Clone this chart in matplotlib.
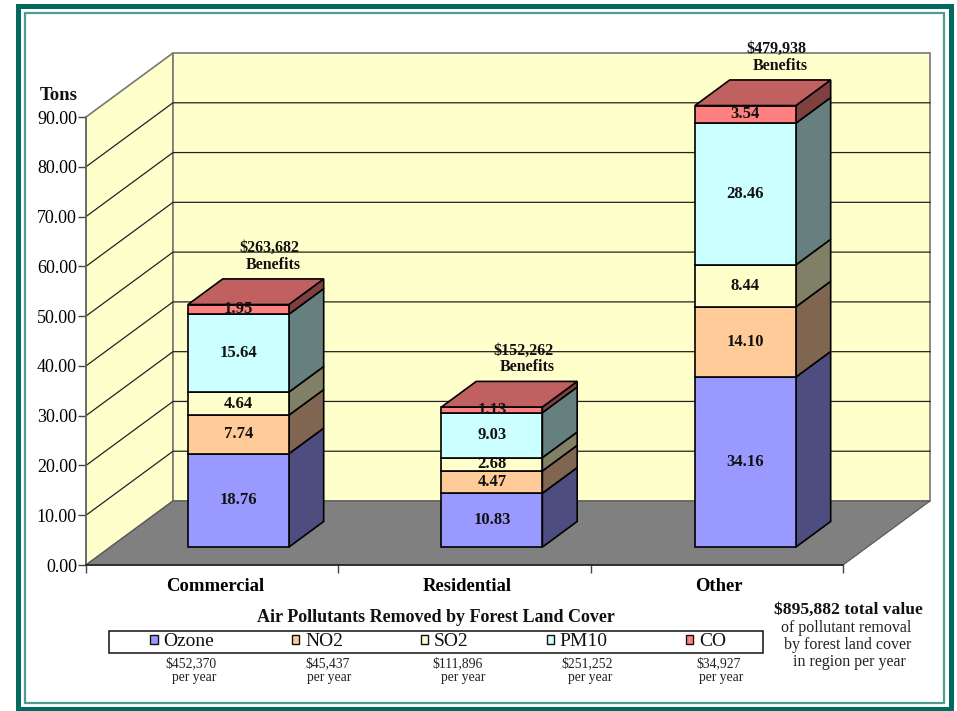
import matplotlib.pyplot as plt
from matplotlib.patches import Polygon, Rectangle

W, H = 957, 711

categories = ['Commercial', 'Residential', 'Other']
pollutants = ['Ozone', 'NO2', 'SO2', 'PM10', 'CO']
ozone = [18.76, 10.83, 34.16]
no2 = [7.74, 4.47, 14.10]
so2 = [4.64, 2.68, 8.44]
pm10 = [15.64, 9.03, 28.46]
co = [1.95, 1.13, 3.54]
benefits = ['$263,682', '$152,262', '$479,938']
per_year = ['$452,370', '$45,437', '$111,896', '$251,252', '$34,927']
yticks = [0, 10, 20, 30, 40, 50, 60, 70, 80, 90]

front_cols = ['#9999FF', '#FFCC99', '#FFFFCC', '#CCFFFF', '#FF8080']
side_cols = ['#4D4D80', '#806650', '#808066', '#668080', '#804040']
top_col = '#C06060'

plt.rcParams['font.family'] = ['Liberation Serif', 'DejaVu Serif']
plt.rcParams['text.color'] = '#111111'


def fx(px):
    return px / W


def fy(py):
    return 1 - py / H


fig = plt.figure(figsize=(W / 100, H / 100), dpi=100, facecolor='white')

# frame around the chart
fig.add_artist(Rectangle((fx(17.5), fy(709)), (951 - 17.5) / W, (709 - 5.5) / H,
                         transform=fig.transFigure, fill=False, ec='#006B5E', lw=3.6))
fig.add_artist(Rectangle((fx(24.5), fy(702.7)), (944 - 24.5) / W, (702.7 - 13) / H,
                         transform=fig.transFigure, fill=False, ec='#4F9C90', lw=1.6))

# front plane of the 3d box is the real axes
ax = fig.add_axes([fx(86), fy(565), (843 - 86) / W, (565 - 117) / H])
ax.set_xlim(0, 3)
ax.set_ylim(0, 90)
ax.patch.set_visible(False)
for s in ['top', 'right']:
    ax.spines[s].set_visible(False)
ax.spines['left'].set_color('#666666')
ax.spines['left'].set_linewidth(1.2)
ax.spines['bottom'].set_color('#222222')
ax.spines['bottom'].set_linewidth(1.2)

# depth of the box in axis units
dep_x = 87 / (757 / 3)
dep_y = 64 / (448 / 90)


def proj(x, v, d):
    return (x + d * dep_x, v + d * dep_y)


# walls and floor
ax.add_patch(Polygon([proj(0, 0, 0), proj(0, 0, 1), proj(0, 90, 1), proj(0, 90, 0)], fc='#FFFFCC', ec='#777777',
                     lw=1.2, clip_on=False, zorder=0.5))
ax.add_patch(Polygon([proj(0, 0, 1), proj(3, 0, 1), proj(3, 90, 1), proj(0, 90, 1)], fc='#FFFFCC', ec='#777777',
                     lw=1.2, clip_on=False, zorder=0.5))
ax.add_patch(Polygon([proj(0, 0, 0), proj(3, 0, 0), proj(3, 0, 1), proj(0, 0, 1)], fc='#808080', ec='#555555',
                     lw=0.8, clip_on=False, zorder=0.6))
for t in yticks[1:-1]:
    ax.plot(*zip(proj(0, t, 0), proj(0, t, 1), proj(3, t, 1)), color='#222222', lw=0.9, clip_on=False, zorder=0.7)

# stacked 3d bars
series = [ozone, no2, so2, pm10, co]
bar_w = 0.4
d0, d1 = 0.28, 0.68
z = 2
for i in range(len(categories)):
    left = i * 1.0046 + 0.3075
    right = left + bar_w
    bottom = 0.0
    for k, vals in enumerate(series):
        v = vals[i]
        top = bottom + v
        ax.add_patch(Polygon([proj(right, bottom, d0), proj(right, bottom, d1), proj(right, top, d1), proj(right, top, d0)],
                             fc=side_cols[k], ec='black', lw=1.2, clip_on=False, zorder=z))
        ax.add_patch(Polygon([proj(left, bottom, d0), proj(right, bottom, d0), proj(right, top, d0), proj(left, top, d0)],
                             fc=front_cols[k], ec='black', lw=1.2, clip_on=False, zorder=z + 1))
        cx, cy = proj(left + bar_w / 2, bottom + v / 2, d0)
        ax.text(cx, cy, '%.2f' % v, ha='center', va='center', fontsize=12, fontweight='bold', zorder=50)
        bottom = top
    ax.add_patch(Polygon([proj(left, bottom, d0), proj(right, bottom, d0), proj(right, bottom, d1), proj(left, bottom, d1)],
                         fc=top_col, ec='black', lw=1.2, clip_on=False, zorder=z + 1))
    lx, ly = proj(right, bottom, d1)
    ax.annotate(benefits[i], (lx, ly), xytext=(-54, 23), textcoords='offset pixels', ha='center', va='bottom',
                fontsize=11.5, fontweight='bold', annotation_clip=False, zorder=50)
    ax.annotate('Benefits', (lx, ly), xytext=(-50, 6), textcoords='offset pixels', ha='center', va='bottom',
                fontsize=11.5, fontweight='bold', annotation_clip=False, zorder=50)
    z += 3

# ticks
ax.set_yticks(yticks)
ax.set_yticklabels(['%.2f' % t for t in yticks], fontsize=13)
ax.tick_params(axis='y', length=6, width=1.0, color='#444444', pad=0.5)
ax.set_xticks([0, 1, 2, 3])
ax.set_xticklabels([])
ax.set_xticks([0.51, 1.51, 2.51], minor=True)
ax.set_xticklabels(categories, minor=True, fontsize=13.4, fontweight='bold')
ax.tick_params(axis='x', which='major', length=6, width=1.0, color='#444444')
ax.tick_params(axis='x', which='minor', length=0, pad=9.5)

fig.text(fx(59), fy(96), 'Tons', ha='center', va='center', fontsize=13.5, fontweight='bold')
fig.text(fx(436), fy(617), 'Air Pollutants Removed by Forest Land Cover', ha='center', va='center',
         fontsize=13, fontweight='bold')

# legend box, entries sit centred inside it
fig.add_artist(Rectangle((fx(109), fy(653)), (763 - 109) / W, 22 / H, transform=fig.transFigure,
                         fc='white', ec='#111111', lw=1.1))
handles = [Rectangle((0, 0), 1, 1, fc=c, ec='#111111', lw=1) for c in front_cols]
leg = fig.legend(handles, pollutants, ncol=5, loc='center', bbox_to_anchor=(fx(438), fy(642)),
                 bbox_transform=fig.transFigure, fontsize=14, frameon=False,
                 handlelength=0.38, handleheight=0.38, handletextpad=0.3, columnspacing=4.0,
                 borderpad=0, borderaxespad=0)

# values under legend
x1 = [191, 328, 458, 587, 719]
x2 = [194, 329, 463, 590, 721]
for j, lab in enumerate(per_year):
    fig.text(fx(x1[j]), fy(664), lab, ha='center', va='center', fontsize=9.8, color='#222222')
    fig.text(fx(x2[j]), fy(678), 'per year', ha='center', va='center', fontsize=9.8, color='#222222')

fig.text(fx(848), fy(610), '$895,882 total value', ha='center', va='center', fontsize=12.6, fontweight='bold')
fig.text(fx(846), fy(627.5), 'of pollutant removal', ha='center', va='center', fontsize=11.5, color='#222222')
fig.text(fx(848), fy(645), 'by forest land cover', ha='center', va='center', fontsize=11.5, color='#222222')
fig.text(fx(849), fy(662), 'in region per year', ha='center', va='center', fontsize=11.5, color='#222222')

fig.savefig('out.png', dpi=100)
